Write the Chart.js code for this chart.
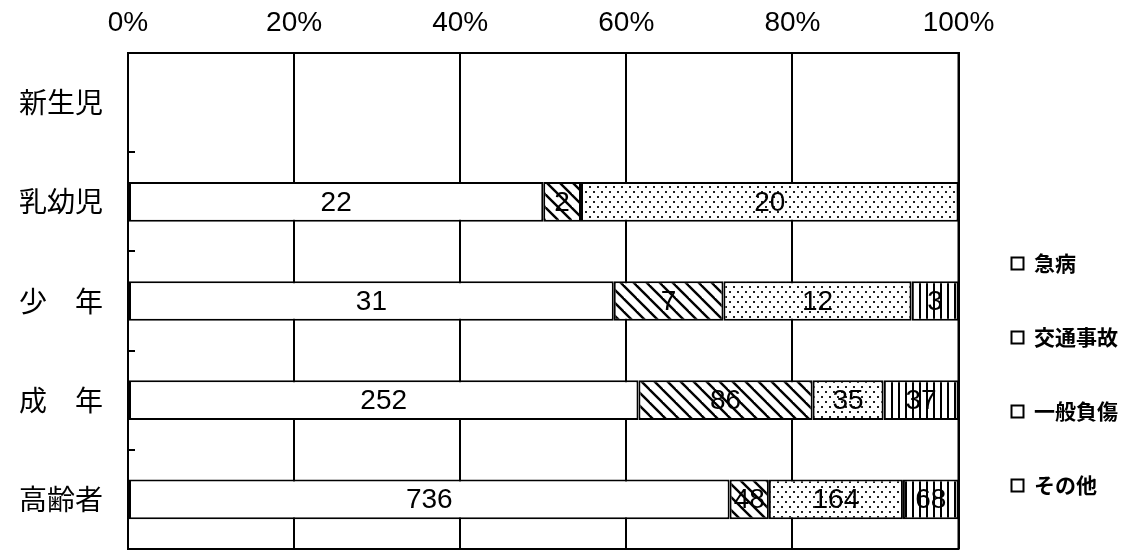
<!DOCTYPE html>
<html lang="ja">
<head>
<meta charset="utf-8">
<title>年齢区分別 事故種別</title>
<script src="https://cdn.jsdelivr.net/npm/chart.js@4.4.1/dist/chart.umd.min.js"></script>
<style>
    html, body { margin: 0; padding: 0; background: #fff; }
    #wrap { width: 1140px; height: 551px; }
</style>
</head>
<body>
<div id="wrap"><canvas id="grafico" width="1140" height="551"></canvas></div>
<script>
const categorias = ['新生児', '乳幼児', '少\u3000年', '成\u3000年', '高齢者'];
const series = ['急病', '交通事故', '一般負傷', 'その他'];
const kyubyo = [0, 22, 31, 252, 736];
const kotsuJiko = [0, 2, 7, 86, 48];
const ippanFusho = [0, 20, 12, 35, 164];
const sonota = [0, 0, 3, 37, 68];
const xTicks = [0, 20, 40, 60, 80, 100];

const fontJp = "'Noto Sans CJK JP', 'Noto Sans', sans-serif";
const fontNum = "'Liberation Sans', Arial, sans-serif";

let totais = categorias.map((_, i) => kyubyo[i] + kotsuJiko[i] + ippanFusho[i] + sonota[i]);

function paraPercentual(arr) {
    return arr.map((v, i) => totais[i] ? v / totais[i] * 100 : 0);
}

function criarPadrao(tipo) {
    let c = document.createElement('canvas');
    let ctx = c.getContext('2d');
    if (tipo === 'diagonal') {
        let s = 13;
        c.width = s; c.height = s;
        ctx.fillStyle = '#fff';
        ctx.fillRect(0, 0, s, s);
        ctx.strokeStyle = '#000';
        ctx.lineWidth = 2.4;
        [-s, 0, s].forEach(o => {
            ctx.beginPath();
            ctx.moveTo(o - 1, -1);
            ctx.lineTo(o + s + 1, s + 1);
            ctx.stroke();
        });
    } else if (tipo === 'pontos') {
        c.width = 8; c.height = 10;
        ctx.fillStyle = '#fff';
        ctx.fillRect(0, 0, 8, 10);
        ctx.fillStyle = '#222';
        ctx.fillRect(1, 1, 2, 2);
        ctx.fillRect(5, 6, 2, 2);
    } else if (tipo === 'vertical') {
        c.width = 7; c.height = 7;
        ctx.fillStyle = '#fff';
        ctx.fillRect(0, 0, 7, 7);
        ctx.fillStyle = '#000';
        ctx.fillRect(2, 0, 2, 7);
    } else {
        return '#fff';
    }
    return document.getElementById('grafico').getContext('2d').createPattern(c, 'repeat');
}

// numeros dentro das barras
const rotulosPlugin = {
    id: 'rotulos',
    afterDatasetsDraw(chart) {
        let ctx = chart.ctx;
        ctx.save();
        ctx.font = '28px ' + fontNum;
        ctx.fillStyle = '#000';
        ctx.textAlign = 'center';
        ctx.textBaseline = 'middle';
        chart.data.datasets.forEach((ds, di) => {
            chart.getDatasetMeta(di).data.forEach((el, i) => {
                let n = ds.contagens[i];
                if (!n) return;
                let p = el.getCenterPoint();
                ctx.fillText(String(n), p.x, p.y + 1);
            });
        });
        ctx.restore();
    }
};

// moldura e marcas curtas no eixo das categorias
const molduraPlugin = {
    id: 'moldura',
    afterDraw(chart) {
        let ctx = chart.ctx;
        let a = chart.chartArea;
        let y = chart.scales.y;
        ctx.save();
        ctx.strokeStyle = '#000';
        ctx.lineWidth = 2;
        ctx.strokeRect(a.left, a.top, a.right - a.left, a.bottom - a.top);
        for (let i = 1; i < categorias.length; i++) {
            let py = Math.round((y.getPixelForValue(i - 1) + y.getPixelForValue(i)) / 2);
            ctx.beginPath();
            ctx.moveTo(a.left, py);
            ctx.lineTo(a.left + 7, py);
            ctx.stroke();
        }
        ctx.restore();
    }
};

let padroes = ['branco', 'diagonal', 'pontos', 'vertical'].map(criarPadrao);
let valores = [kyubyo, kotsuJiko, ippanFusho, sonota];

let chart = new Chart(document.getElementById('grafico'), {
    type: 'bar',
    data: {
        labels: categorias,
        datasets: series.map((nome, i) => ({
            label: nome,
            data: paraPercentual(valores[i]),
            contagens: valores[i],
            backgroundColor: padroes[i],
            borderColor: '#000',
            borderWidth: 2,
            borderSkipped: false,
            barPercentage: 0.4,
            categoryPercentage: 1,
        }))
    },
    options: {
        indexAxis: 'y',
        responsive: false,
        animation: false,
        layout: { padding: { top: 6, bottom: 2, left: 19, right: 12 } },
        plugins: {
            tooltip: { enabled: false },
            legend: {
                position: 'right',
                align: 'end',
                labels: {
                    boxWidth: 12,
                    boxHeight: 12,
                    padding: 53,
                    color: '#000',
                    font: { family: fontJp, size: 21, weight: 'bold' },
                    generateLabels: chart => chart.data.datasets.map((ds, i) => ({
                        text: ds.label,
                        fillStyle: '#fff',
                        strokeStyle: '#000',
                        lineWidth: 2,
                        hidden: false,
                        datasetIndex: i,
                    }))
                }
            }
        },
        scales: {
            x: {
                position: 'top',
                stacked: true,
                min: 0,
                max: 100,
                afterBuildTicks: axis => { axis.ticks = xTicks.map(v => ({ value: v })); },
                afterFit: axis => {
                    axis.height = 47;
                    axis.paddingLeft = 0;
                    axis.paddingRight = 0;
                },
                ticks: {
                    color: '#000',
                    padding: 13,
                    font: { family: fontNum, size: 28 },
                    callback: v => v + '%'
                },
                grid: { color: '#000', lineWidth: 2, drawTicks: false },
                border: { color: '#000', width: 2 }
            },
            y: {
                stacked: true,
                afterFit: axis => {
                    axis.width = 109;
                    axis.paddingTop = 0;
                    axis.paddingBottom = 0;
                },
                ticks: {
                    color: '#000',
                    padding: 25,
                    font: { family: fontJp, size: 28 }
                },
                grid: { display: false, drawTicks: false },
                border: { color: '#000', width: 2 }
            }
        }
    },
    plugins: [rotulosPlugin, molduraPlugin]
});
</script>
</body>
</html>
